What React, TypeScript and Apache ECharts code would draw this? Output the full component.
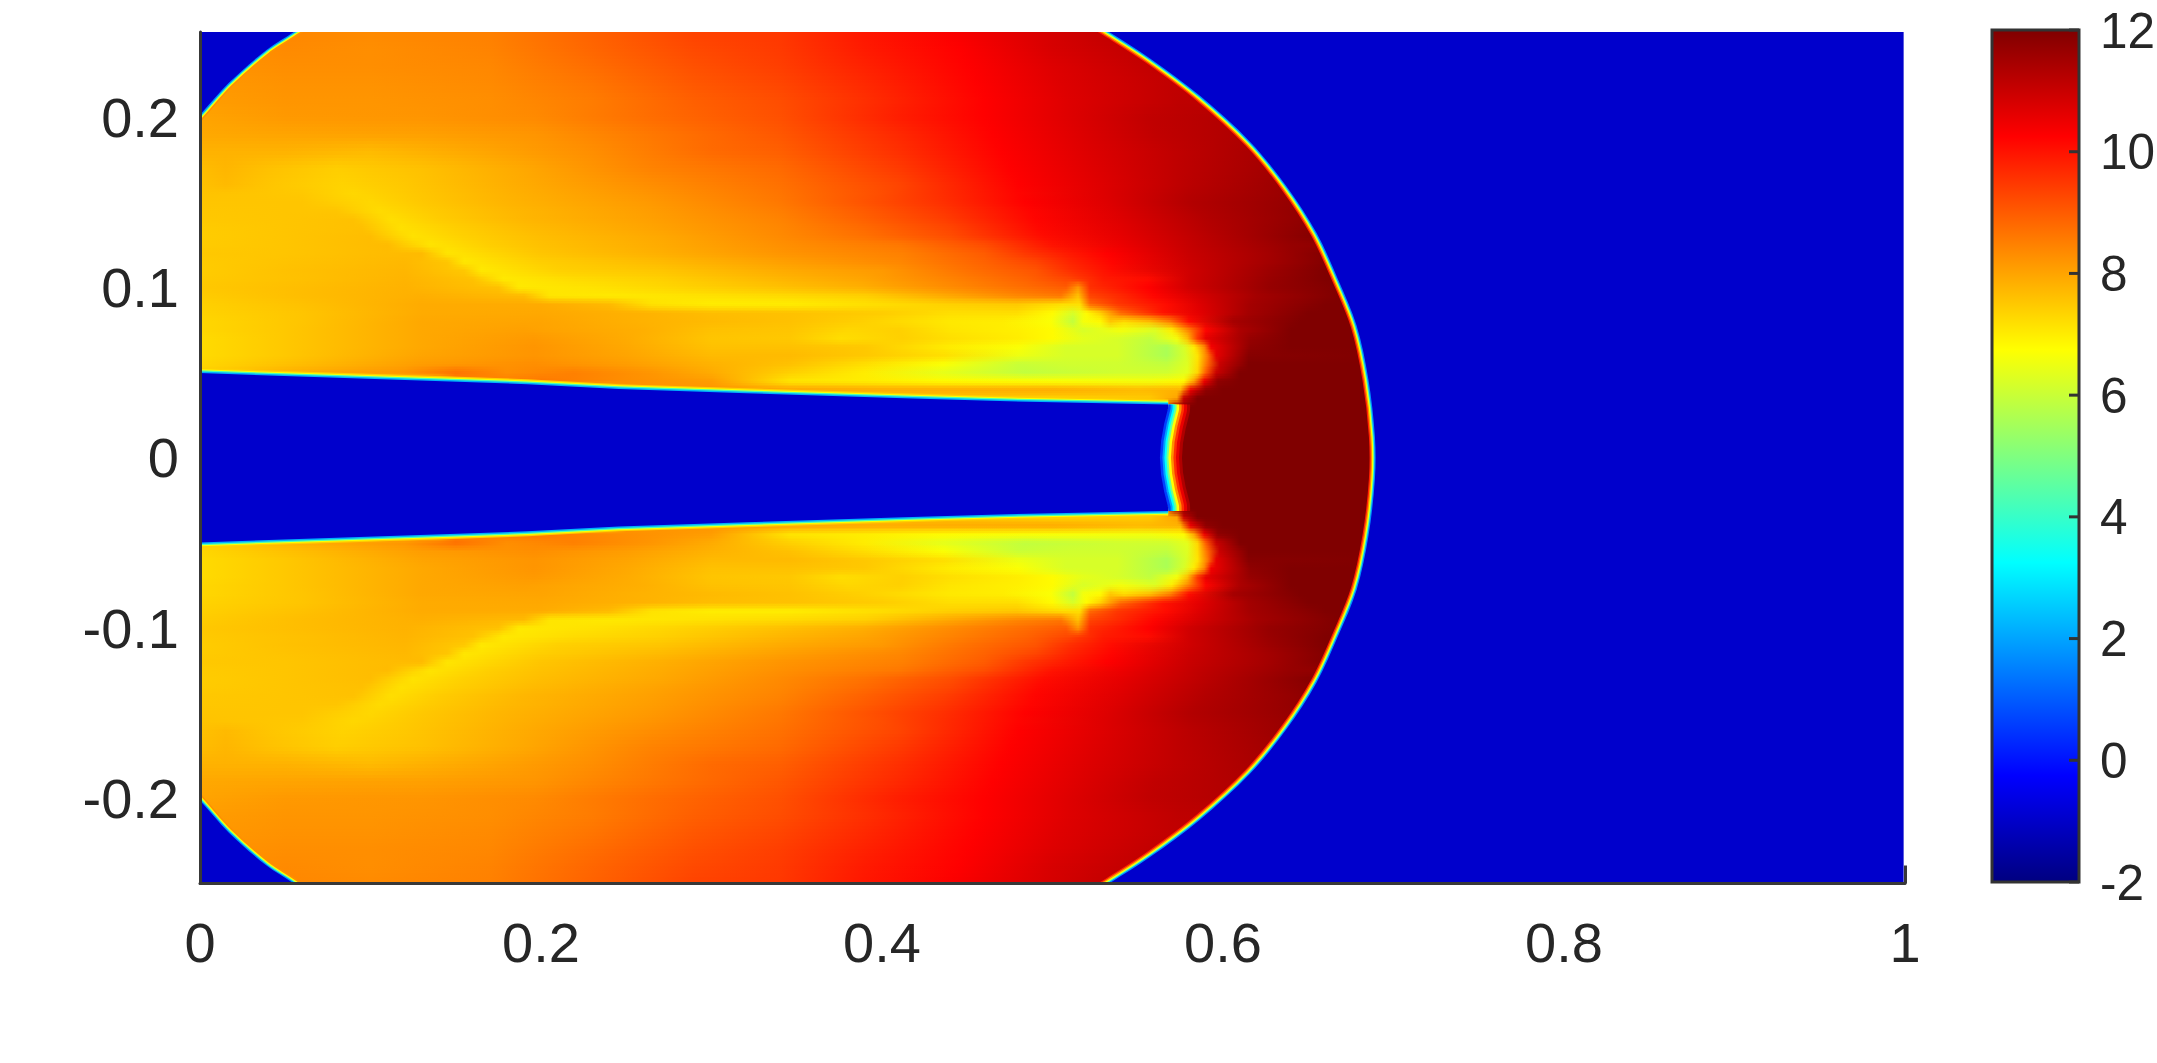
import React, { useEffect, useRef } from "react";
import * as echarts from "echarts";

const FONT = "Liberation Sans, Arial, sans-serif";
const X_TICKS = [0, 0.2, 0.4, 0.6, 0.8, 1];
const Y_TICKS = [-0.2, -0.1, 0, 0.1, 0.2];
const CB_MIN = -2;
const CB_MAX = 12;
const CB_TICKS = [-2, 0, 2, 4, 6, 8, 10, 12];
const JET_STOPS: [number, string][] = [
  [0, "#000080"], [0.125, "#0000ff"], [0.375, "#00ffff"],
  [0.625, "#ffff00"], [0.875, "#ff0000"], [1, "#800000"],
];
const AMBIENT_VALUE = -0.95;
const IMAGE_RIGHT = 0.9992;
const ROW_END = 0.72;

// Upper-half cross sections (the field is mirror symmetric about y = 0)
const ROW_Y = [0.25, 0.24, 0.23, 0.22, 0.21, 0.2, 0.19, 0.18, 0.17, 0.16, 0.155, 0.15, 0.145, 0.14, 0.135, 0.13, 0.125, 0.12, 0.115, 0.11, 0.105, 0.1, 0.095, 0.09, 0.085, 0.08, 0.075, 0.07, 0.065, 0.06, 0.055, 0.05, 0.045, 0.04, 0.035, 0.03, 0.01];
const ROW_STOPS: number[][] = [
  [0,8.3,.055,8.4,.1,8.35,.17,8.5,.23,8.9,.29,9.35,.34,9.5,.39,9.95,.44,10.3,.496,10.8,.54,11.15,.7,11.2],
  [0,8.2,.05,8.35,.1,8.3,.17,8.45,.23,8.85,.29,9.25,.34,9.45,.39,9.9,.445,10.25,.5,10.8,.55,11.1,.7,11.2],
  [0,8.2,.05,8.3,.1,8.3,.17,8.4,.23,8.75,.29,9.15,.34,9.4,.39,9.8,.45,10.25,.5,10.7,.56,11.1,.7,11.3],
  [0,8.15,.05,8.25,.1,8.25,.17,8.35,.23,8.65,.29,9.05,.34,9.3,.39,9.7,.455,10.25,.505,10.7,.57,11.1,.7,11.3],
  [0,8.1,.05,8.2,.1,8.2,.17,8.3,.23,8.55,.29,8.95,.34,9.2,.39,9.6,.46,10.25,.51,10.7,.575,11.15,.7,11.3],
  [0,8.0,.05,8.15,.13,8.2,.196,8.35,.264,8.75,.34,9.15,.41,9.85,.46,10.25,.51,10.7,.556,11.1,.6,11.3,.7,11.4],
  [0,7.95,.05,8,.13,8.05,.196,8.2,.264,8.6,.34,9.05,.41,9.7,.465,10.25,.515,10.7,.56,11.1,.62,11.4,.7,11.5],
  [0,7.8,.05,7.8,.1,7.7,.17,8,.23,8.3,.3,8.8,.34,8.95,.41,9.6,.47,10.25,.52,10.7,.57,11.1,.63,11.5,.7,11.6],
  [0,7.65,.015,7.75,.04,7.6,.08,7.42,.13,7.6,.19,7.95,.264,8.45,.34,8.8,.41,9.45,.475,10.25,.525,10.7,.575,11.15,.64,11.6,.7,11.6],
  [0,7.6,.015,7.7,.04,7.55,.084,7.35,.12,7.5,.18,7.85,.264,8.3,.34,8.7,.41,9.3,.48,10.25,.53,10.7,.58,11.2,.645,11.7,.7,11.7],
  [0,7.57,.03,7.55,.06,7.5,.09,7.3,.125,7.5,.18,7.8,.264,8.22,.34,8.65,.4,9.2,.48,10.2,.53,10.7,.58,11.25,.645,11.7,.7,11.7],
  [0,7.55,.06,7.55,.1,7.3,.13,7.5,.174,7.75,.264,8.15,.34,8.6,.388,9.1,.436,9.6,.484,10.25,.532,10.7,.58,11.3,.64,11.7,.7,11.7],
  [0,7.52,.05,7.55,.08,7.55,.105,7.25,.135,7.47,.18,7.72,.264,8.1,.34,8.52,.39,9,.436,9.5,.487,10.2,.536,10.7,.585,11.3,.645,11.75,.7,11.75],
  [0,7.5,.05,7.55,.09,7.6,.112,7.2,.14,7.45,.19,7.75,.264,8.05,.34,8.45,.388,8.9,.436,9.4,.49,10.2,.54,10.7,.59,11.3,.65,11.8,.7,11.8],
  [0,7.47,.05,7.55,.095,7.62,.118,7.18,.15,7.42,.195,7.7,.264,8,.34,8.4,.39,8.8,.44,9.3,.492,10.15,.54,10.65,.59,11.25,.65,11.85,.7,11.85],
  [0,7.45,.05,7.55,.1,7.65,.125,7.15,.155,7.4,.2,7.65,.27,7.95,.34,8.35,.39,8.7,.44,9.2,.495,10.1,.54,10.6,.59,11.2,.65,11.9,.7,11.9],
  [0,7.47,.05,7.55,.11,7.68,.135,7.12,.17,7.42,.2,7.6,.27,7.9,.34,8.27,.41,8.6,.46,9.2,.5,10,.54,10.5,.585,11.1,.64,11.7,.7,11.95],
  [0,7.5,.05,7.55,.1,7.65,.13,7.7,.145,7.1,.2,7.55,.27,7.85,.34,8.2,.412,8.5,.46,9,.484,9.5,.508,9.9,.532,10.25,.58,11,.627,11.5,.656,11.9,.7,12],
  [0,7.47,.05,7.58,.12,7.72,.145,7.55,.155,7.08,.2,7.42,.27,7.7,.34,8.05,.41,8.4,.46,8.9,.49,9.3,.51,9.75,.535,10.2,.58,10.95,.63,11.55,.66,11.95,.7,12],
  [0,7.45,.05,7.6,.12,7.75,.155,7.5,.165,7.05,.21,7.4,.27,7.55,.34,7.9,.4,8.15,.45,8.7,.49,9.1,.51,9.6,.535,10.1,.58,10.9,.627,11.6,.66,12,.7,12],
  [0,7.48,.06,7.62,.12,7.78,.16,7.6,.178,7.05,.22,7.25,.27,7.4,.34,7.75,.39,8,.44,8.45,.485,8.9,.51,9.3,.53,9.9,.556,10.1,.58,10.9,.627,11.65,.66,12,.7,12],
  [0,7.5,.06,7.65,.12,7.8,.175,7.6,.187,7.05,.23,7.15,.27,7.3,.34,7.6,.388,7.85,.436,8.3,.484,8.75,.508,9,.515,8.2,.522,9.6,.532,9.8,.556,10.25,.58,10.9,.627,11.7,.668,12,.7,12],
  [0,7.45,.06,7.65,.13,7.85,.19,7.7,.205,7.1,.24,7.05,.275,7.1,.34,7.25,.39,7.4,.44,7.95,.48,8.4,.505,8.6,.515,7.6,.522,9.3,.54,9.7,.56,10.2,.585,10.8,.62,11.5,.668,12,.7,12],
  [0,7.4,.06,7.6,.13,7.9,.2,7.9,.24,7.7,.265,7.15,.3,7,.346,7,.4,7.2,.44,7.4,.479,7.5,.506,7.2,.516,7.2,.522,8.8,.538,9.5,.567,10.1,.586,10.7,.616,11.5,.66,12,.7,12],
  [0,7.35,.06,7.55,.13,7.9,.2,7.95,.26,7.8,.3,7.65,.346,7.6,.4,7.45,.44,7.2,.479,7.2,.5,6.8,.512,6.2,.52,6.8,.528,7.4,.54,8.8,.565,10,.585,10.6,.615,11.5,.65,12,.7,12],
  [0,7.3,.06,7.55,.13,7.95,.2,8,.26,7.8,.3,7.7,.346,7.6,.388,7.4,.44,7.05,.47,7,.499,6.7,.512,5.9,.518,6.6,.528,6.8,.534,7.5,.542,7.2,.557,7.6,.569,8.5,.58,10.1,.606,11.5,.645,12,.7,12],
  [0,7.3,.05,7.5,.13,7.95,.19,8.05,.26,7.85,.3,7.6,.346,7.55,.38,7.3,.41,7.4,.44,7.1,.48,6.95,.5,6.8,.518,6.2,.54,6.6,.56,6.3,.57,7,.58,8.5,.59,10.2,.61,11.4,.64,12,.7,12],
  [0,7.25,.05,7.5,.13,7.95,.196,8.15,.25,7.9,.3,7.55,.346,7.5,.376,7.2,.412,7.4,.44,7.2,.48,7,.5,6.8,.518,6.4,.538,6.2,.557,5.9,.573,6.6,.579,7.6,.585,9.5,.59,10.6,.616,11.7,.64,12,.7,12],
  [0,7.25,.05,7.5,.13,7.95,.196,8.2,.25,7.95,.3,7.6,.346,7.6,.39,7.5,.44,7,.48,6.7,.508,6.2,.538,6.2,.567,5.6,.577,6.2,.583,7,.589,8.4,.593,10.4,.616,11.8,.64,12,.7,12],
  [0,7.25,.05,7.5,.13,8,.196,8.2,.25,8,.3,7.7,.346,7.7,.39,7.5,.436,7.2,.48,6.5,.508,6.2,.538,6.2,.567,5.6,.578,6.2,.585,7.1,.591,8.6,.596,10.6,.615,11.9,.7,12],
  [0,7.3,.05,7.6,.13,8.1,.196,8.3,.25,8.1,.3,7.8,.346,7.6,.39,7.2,.436,6.7,.48,6,.51,6.1,.538,6.1,.567,5.9,.579,6.3,.585,7.2,.591,8.8,.598,11,.615,12,.7,12],
  [0,7.4,.05,7.8,.12,8.2,.15,8.7,.18,8.3,.219,8.5,.264,8.2,.3,7.9,.346,7.4,.39,7,.436,6.4,.484,5.9,.538,6.1,.567,6.1,.579,6.4,.585,7.3,.59,9,.596,11,.61,12,.7,12],
  [0,7.5,.14,7.5,.15,8.4,.2,8.6,.25,8.3,.3,8.1,.346,7.1,.39,7,.436,6.8,.5,6.7,.557,6.6,.577,6.8,.583,8,.589,10.5,.597,11.8,.61,12,.7,12],
  [0,7.5,.24,7.5,.25,8.2,.3,8.2,.346,8,.4,7.9,.44,7.9,.5,7.9,.55,7.7,.575,7.8,.581,10.5,.59,11.8,.6,12,.7,12],
  [0,7.5,.4,7.5,.42,7.6,.5,7.4,.557,7.5,.573,8,.577,11,.585,12,.7,12],
  [0,7.4,.55,7.5,.565,8,.572,11.5,.58,12,.7,12],
  [0,12,.7,12],
];

// Boundaries of the unshocked regions (upper half)
const BOW_SHOCK: number[][] = [[.47,.288],[.5,.2704],[.5337,.2497],[.5572,.2345],[.5865,.2125],[.6158,.1856],[.6374,.1592],[.6549,.1319],[.6676,.1044],[.6784,.0775],[.6853,.046],[.6891,.0124]];
const CORNER_SHOCK: number[][] = [[-.02,.18],[0,.2013],[.0168,.22],[.039,.2395],[.055,.25],[.075,.265]];
const JET_EDGE: number[][] = [[0,.0497],[.138,.0451],[.192,.0432],[.2457,.0403],[.3206,.0379],[.413,.035],[.4635,.0334],[.5678,.0312]];
const JET_HEAD: number[][] = [[.5678,.0312],[.5678,.029],[.5655,.02],[.5637,.01],[.563,0]];

const SHOCK_LAYERS: [number, string][] = [[12, "#ff2000"], [9.5, "#ff9000"], [7, "#ffff00"], [4.5, "#40ffc0"], [2.5, "#0090ff"]];
const CORNER_LAYERS: [number, string][] = [[10, "#ff9000"], [7, "#ffff00"], [4.5, "#40ffc0"], [2.5, "#0090ff"]];
const EDGE_LAYERS: [number, string][] = [[10, "#ffd000"], [7.5, "#ffff00"], [5.5, "#50ffb0"], [3, "#00b0ff"]];
const HEAD_LAYERS: [number, string][] = [[44, "#b00000"], [38, "#e80000"], [32, "#ff3000"], [27, "#ff9000"], [22, "#ffff00"], [17, "#70ff90"], [13, "#00ffff"], [9, "#00a0ff"], [5, "#0040ff"]];
const SMOOTH = 0.33;

function hexOf(c: number) {
  return Math.round(c).toString(16).padStart(2, "0");
}
function jet(v: number): string {
  const t = Math.min(1, Math.max(0, (v - CB_MIN) / (CB_MAX - CB_MIN)));
  for (let i = 1; i < JET_STOPS.length; i++) {
    const [a, ca] = JET_STOPS[i - 1];
    const [b, cb] = JET_STOPS[i];
    if (t <= b) {
      const f = (t - a) / (b - a);
      const pa = [1, 3, 5].map((k) => parseInt(ca.slice(k, k + 2), 16));
      const pb = [1, 3, 5].map((k) => parseInt(cb.slice(k, k + 2), 16));
      return "#" + pa.map((p, k) => hexOf(p + (pb[k] - p) * f)).join("");
    }
  }
  return JET_STOPS[JET_STOPS.length - 1][1];
}
function rowGradient(i: number) {
  const flat = ROW_STOPS[i];
  const stops: { offset: number; color: string }[] = [];
  for (let k = 0; k < flat.length; k += 2) stops.push({ offset: flat[k] / ROW_END, color: jet(flat[k + 1]) });
  return new echarts.graphic.LinearGradient(0, 0, 1, 0, stops);
}

const FADE_STEPS = 5;
const BANDS: { i: number; sign: number }[] = [];
for (let i = 1; i < ROW_Y.length; i++) {
  BANDS.push({ i, sign: 1 });
  BANDS.push({ i, sign: -1 });
}

function renderBand(params: any, api: any) {
  const { i, sign } = BANDS[params.dataIndex];
  const left = api.coord([0, 0])[0];
  const right = api.coord([ROW_END, 0])[0];
  const yA = ROW_Y[i - 1] * sign;
  const yB = ROW_Y[i] * sign;
  const children: any[] = [];
  const rowEdge = (k: number) => Math.round(api.coord([0, yA + ((yB - yA) * k) / FADE_STEPS])[1]);
  const y0 = rowEdge(0);
  const y1 = rowEdge(FADE_STEPS);
  const last = i === ROW_Y.length - 1;
  const yEnd = last ? Math.round(api.coord([0, 0])[1]) : y1;
  children.push({
    type: "rect",
    shape: { x: left, y: Math.min(y0, yEnd), width: right - left, height: Math.abs(yEnd - y0) },
    style: { fill: rowGradient(i) },
  });
  for (let k = 0; k < FADE_STEPS; k++) {
    const a = rowEdge(k);
    const b = rowEdge(k + 1);
    if (a === b) continue;
    children.push({
      type: "rect",
      shape: { x: left, y: Math.min(a, b), width: right - left, height: Math.abs(b - a) },
      style: { fill: rowGradient(i - 1), opacity: 1 - (k + 0.5) / FADE_STEPS },
    });
  }
  return { type: "group", children };
}

function renderBoundaries(_params: any, api: any) {
  const ambient = jet(AMBIENT_VALUE);
  const pts = (list: number[][]) => list.map((p) => api.coord(p));
  const mirror = (list: number[][]) => list.map((p) => [p[0], -p[1]]);
  const lines = (list: number[][], layers: [number, string][]) =>
    layers.map(([w, color]) => ({
      type: "polyline",
      shape: { points: pts(list) },
      style: { stroke: color, lineWidth: w, fill: null, lineJoin: "round" },
    }));
  const loops = (list: number[][], layers: [number, string][]) =>
    layers.map(([w, color]) => ({
      type: "polygon",
      shape: { points: pts(list), smooth: SMOOTH },
      style: { stroke: color, lineWidth: w, fill: null, lineJoin: "round" },
    }));
  const poly = (list: number[][], smooth = 0) => ({ type: "polygon", shape: { points: pts(list), smooth }, style: { fill: ambient } });

  const bow = [...BOW_SHOCK, ...mirror(BOW_SHOCK).reverse(), [0.75, -0.32], [0.75, 0.32]];
  const cornerUp = [...CORNER_SHOCK, [-0.06, 0.3]];
  const cornerLow = mirror(cornerUp);
  const edgeLow = mirror(JET_EDGE);
  const head = [...JET_HEAD, ...mirror(JET_HEAD).reverse()];
  const jetOutline = [...JET_EDGE.slice(0, -1), ...head, ...edgeLow.slice(0, -1).reverse()];
  const children = [
    ...loops(bow, SHOCK_LAYERS),
    ...loops(cornerUp, CORNER_LAYERS),
    ...loops(cornerLow, CORNER_LAYERS),
    ...lines(head, HEAD_LAYERS),
    ...lines(JET_EDGE, EDGE_LAYERS),
    ...lines(edgeLow, EDGE_LAYERS),
    poly(bow, SMOOTH),
    poly([[0.72, 0.25], [IMAGE_RIGHT, 0.25], [IMAGE_RIGHT, -0.25], [0.72, -0.25]]),
    poly(cornerUp, SMOOTH),
    poly(cornerLow, SMOOTH),
    poly(jetOutline),
  ];
  return { type: "group", children };
}

function renderColorbar(_params: any, api: any) {
  const a = api.coord([0, CB_MAX]);
  const b = api.coord([1, CB_MIN]);
  const stops = JET_STOPS.map(([t, color]) => ({ offset: 1 - t, color })).reverse();
  const ticks = CB_TICKS.map((v) => {
    const p = api.coord([1, v]);
    return {
      type: "line",
      shape: { x1: p[0] - 10, y1: p[1], x2: p[0], y2: p[1] },
      style: { stroke: "#333333", lineWidth: 3 },
    };
  });
  return {
    type: "group",
    children: [
      {
        type: "rect",
        shape: { x: a[0], y: a[1], width: b[0] - a[0], height: b[1] - a[1] },
        style: { fill: new echarts.graphic.LinearGradient(0, 0, 0, 1, stops), stroke: "#333333", lineWidth: 3 },
      },
      ...ticks,
    ],
  };
}

const TEXT = "#262626";
const LINE = "#383838";

export default function App() {
  const ref = useRef<HTMLDivElement>(null);
  useEffect(() => {
    const chart = echarts.init(ref.current!, undefined, { renderer: "svg" });
    chart.setOption({
      animation: false,
      backgroundColor: "#ffffff",
      grid: [
        { left: 200, top: 32, width: 1705, height: 851.5, outerBoundsMode: "none" },
        { left: 1992, top: 30, width: 87, height: 852, outerBoundsMode: "none" },
      ],
      xAxis: [
        {
          type: "value", gridIndex: 0, min: 0, max: 1, z: 5,
          axisLine: { show: true, onZero: false, lineStyle: { color: LINE, width: 3 } },
          axisTick: { show: true, inside: true, length: 18, customValues: [1], lineStyle: { color: LINE, width: 3 } },
          axisLabel: { customValues: X_TICKS, fontFamily: FONT, fontSize: 56, color: TEXT, margin: 31, hideOverlap: false },
          splitLine: { show: true, showMinLine: false, lineStyle: { color: "#e4e4e4", width: 3 } },
        },
        { type: "value", gridIndex: 1, min: 0, max: 1, show: false },
      ],
      yAxis: [
        {
          type: "value", gridIndex: 0, min: -0.25, max: 0.25, z: 5,
          axisLine: { show: true, onZero: false, lineStyle: { color: LINE, width: 3 } },
          axisTick: { show: false },
          axisLabel: { customValues: Y_TICKS, fontFamily: FONT, fontSize: 56, color: TEXT, margin: 21, padding: [4, 0, 0, 0] },
          splitLine: { show: false },
        },
        {
          type: "value", gridIndex: 1, min: CB_MIN, max: CB_MAX, interval: 2, position: "right", z: 10,
          axisLine: { show: false },
          axisTick: { show: false },
          axisLabel: { fontFamily: FONT, fontSize: 49.5, color: TEXT, margin: 21, padding: [8, 0, 0, 0] },
          splitLine: { show: false },
        },
      ],
      series: [
        { type: "custom", name: "field", xAxisIndex: 0, yAxisIndex: 0, z: 2, clip: true, silent: true, renderItem: renderBand, data: BANDS.map((b) => [b.i, b.sign]) },
        { type: "custom", name: "regions", xAxisIndex: 0, yAxisIndex: 0, z: 3, clip: true, silent: true, renderItem: renderBoundaries, data: [[0, 0]] },
        { type: "custom", name: "colorbar", xAxisIndex: 1, yAxisIndex: 1, z: 2, silent: true, renderItem: renderColorbar, data: [[0, 0]] },
      ],
    });
    return () => chart.dispose();
  }, []);
  return <div ref={ref} style={{ position: "absolute", left: 0, top: 0, width: 2157, height: 1063 }} />;
}
